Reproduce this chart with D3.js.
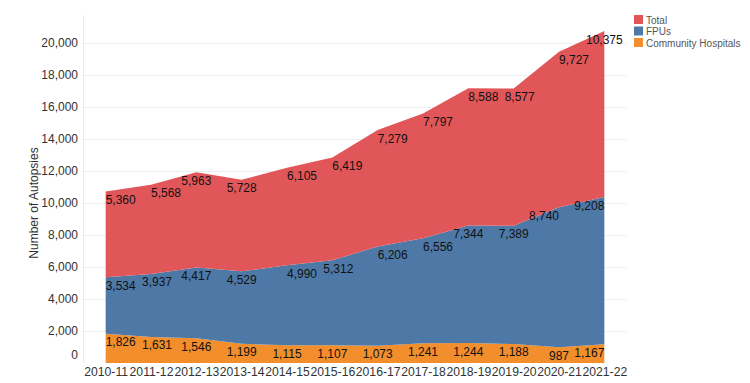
<!DOCTYPE html>
<html>
<head>
<meta charset="utf-8">
<script src="https://cdn.jsdelivr.net/npm/d3@7"></script>
<style>
	body { margin: 0; background: #fff; }
	text { font-family: "Liberation Sans", Arial, sans-serif; }
</style>
</head>
<body>
<svg id="svg" width="750" height="383"></svg>
<script>
const years = ["2010-11", "2011-12", "2012-13", "2013-14", "2014-15", "2015-16",
	"2016-17", "2017-18", "2018-19", "2019-20", "2020-21", "2021-22"];
const community = [1826, 1631, 1546, 1199, 1115, 1107, 1073, 1241, 1244, 1188, 987, 1167];
const fpus = [3534, 3937, 4417, 4529, 4990, 5312, 6206, 6556, 7344, 7389, 8740, 9208];
const total = [5360, 5568, 5963, 5728, 6105, 6419, 7279, 7797, 8588, 8577, 9727, 10375];
const yTicks = [0, 2000, 4000, 6000, 8000, 10000, 12000, 14000, 16000, 18000, 20000];

const series = [
	{ key: "community", name: "Community Hospitals", color: "#F28E2B", values: community },
	{ key: "fpus", name: "FPUs", color: "#4E79A7", values: fpus },
	{ key: "total", name: "Total", color: "#E15759", values: total },
];

const FONT = "'Liberation Sans', Arial, sans-serif";
const svg = d3.select("#svg");
const LEFT = 83, RIGHT = 627, TOP = 15, BOTTOM = 363;

const rows = years.map((y, i) => {
	const r = { year: y };
	series.forEach((s) => (r[s.key] = s.values[i]));
	return r;
});

const stack = d3.stack().keys(series.map((s) => s.key));
const layers = stack(rows);

const x = d3.scalePoint().domain(years).range([LEFT, RIGHT]).padding(0.5);
const y = d3.scaleLinear().domain([0, 21750]).range([BOTTOM, TOP]);

// grid
svg.append("g")
	.selectAll("line")
	.data(yTicks.filter((d) => d > 0))
	.join("line")
	.attr("x1", LEFT)
	.attr("x2", RIGHT)
	.attr("y1", (d) => Math.round(y(d)) + 0.5)
	.attr("y2", (d) => Math.round(y(d)) + 0.5)
	.attr("stroke", "#efefef")
	.attr("stroke-width", 1);

svg.append("line")
	.attr("x1", LEFT + 0.5).attr("x2", LEFT + 0.5)
	.attr("y1", TOP).attr("y2", BOTTOM)
	.attr("stroke", "#ececec");

const area = d3.area()
	.x((d) => x(d.data.year))
	.y0((d) => y(d[0]))
	.y1((d) => y(d[1]));

svg.append("g")
	.selectAll("path")
	.data(layers)
	.join("path")
	.attr("d", area)
	.attr("fill", (d, i) => series[i].color);

// y axis
const yAxis = d3.axisLeft(y).tickValues(yTicks).tickSize(0).tickPadding(5)
	.tickFormat(d3.format(","));
const gy = svg.append("g").attr("transform", `translate(${LEFT},0)`).call(yAxis);
gy.select(".domain").remove();
gy.selectAll("text")
	.attr("font-size", 12)
	.attr("fill", "#333")
	.attr("font-family", FONT)
	.attr("dy", (d) => (d === 0 ? "-0.4em" : "0.32em"));

// x axis
const xAxis = d3.axisBottom(x).tickSize(0).tickPadding(4);
const gx = svg.append("g").attr("transform", `translate(0,${BOTTOM})`).call(xAxis);
gx.select(".domain").remove();
gx.selectAll("text")
	.attr("font-size", 12.2)
	.attr("fill", "#333")
	.attr("font-family", FONT);

svg.append("text")
	.attr("transform", `translate(38,${(TOP + BOTTOM) / 2 + 14}) rotate(-90)`)
	.attr("text-anchor", "middle")
	.attr("font-size", 12)
	.attr("fill", "#333")
	.text("Number of Autopsies");

// value labels just under the top edge of each band
const fmt = d3.format(",");
const last = years.length - 1;
const anchorFor = (layer, i) => {
	if (i === 0) return "start";
	if (i === last) return "end";
	const cur = y(layer[i][1]);
	const prevDrop = y(layer[i - 1][1]) - cur;
	const nextDrop = y(layer[i + 1][1]) - cur;
	if (prevDrop > 5.5 && (nextDrop < -2 || prevDrop > 20)) return "start";
	if (nextDrop > 8 && prevDrop < 4) return "end";
	return "middle";
};

layers.forEach((layer, li) => {
	const labels = svg.append("g")
		.selectAll("text")
		.data(layer)
		.join("text")
		.attr("x", (d) => x(d.data.year))
		.attr("y", (d) => y(d[1]) + 12.5)
		.attr("text-anchor", (d, i) => (li === 2 && i === last ? "middle" : anchorFor(layer, i)))
		.attr("font-size", 12)
		.attr("fill", "#111")
		.text((d) => fmt(d[1] - d[0]));

	// keep neighbouring labels apart
	const nodes = labels.nodes();
	const box = (n) => n.getBBox();
	const hit = (a, b) => a.x < b.x + b.width && b.x < a.x + a.width + 2 &&
		a.y < b.y + b.height - 3 && b.y < a.y + a.height - 3;
	const k = nodes.length - 2;
	if (hit(box(nodes[k]), box(nodes[k + 1])) && nodes[k].getAttribute("text-anchor") === "start") {
		d3.select(nodes[k]).attr("text-anchor", "end");
	}
	for (let i = 1; i <= k; i++) {
		const a = box(nodes[i - 1]), b = box(nodes[i]);
		if (hit(a, b)) {
			const shift = a.x + a.width + 6 - b.x;
			d3.select(nodes[i]).attr("x", +nodes[i].getAttribute("x") + shift);
		}
	}
});

// legend
const legendItems = series.slice().reverse();
const lg = svg.append("g").attr("transform", "translate(634,15)");
const item = lg.selectAll("g")
	.data(legendItems)
	.join("g")
	.attr("transform", (d, i) => `translate(0,${i * 11.5})`);
item.append("rect")
	.attr("width", 9)
	.attr("height", 9)
	.attr("fill", (d) => d.color);
item.append("text")
	.attr("x", 12)
	.attr("y", 8.5)
	.attr("font-size", 10)
	.attr("fill", "#555")
	.text((d) => d.name);
</script>
</body>
</html>
